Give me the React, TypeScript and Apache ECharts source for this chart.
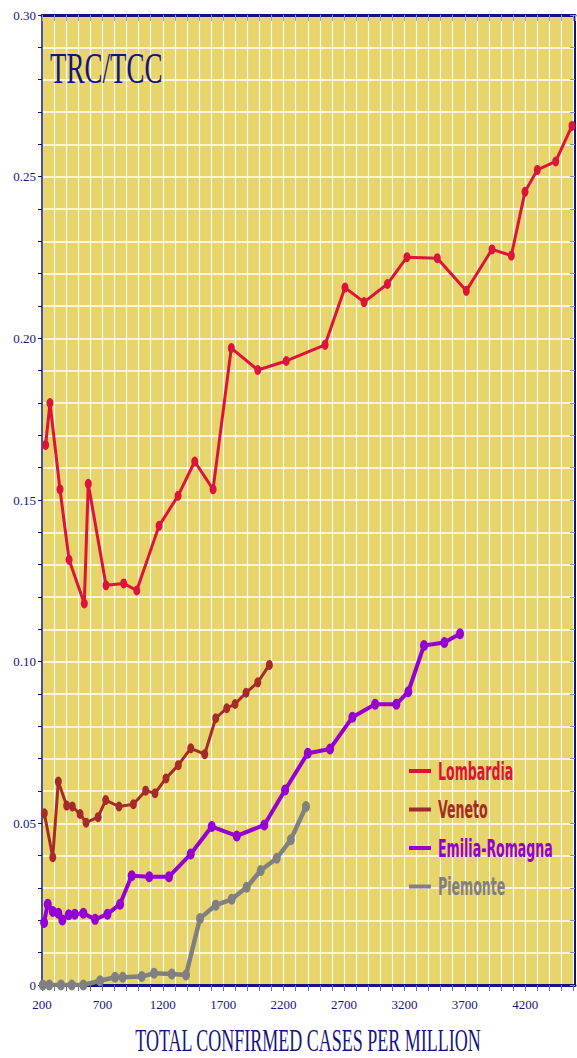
import React, { useEffect, useRef } from "react";
import * as echarts from "echarts";

const SERIES_NAMES = ["Lombardia", "Veneto", "Emilia-Romagna", "Piemonte"];
const SERIES_COLORS = ["#DC143C", "#A52A2A", "#9400D3", "#808080"];

const LOMBARDIA_X = [230, 266, 349, 424, 550, 583, 730, 876, 984, 1169, 1326, 1464, 1616, 1767, 1986, 2222, 2543, 2708, 2866, 3059, 3221, 3472, 3712, 3925, 4085, 4198, 4300, 4452, 4587];
const LOMBARDIA_Y = [0.167, 0.18, 0.1533, 0.1315, 0.118, 0.155, 0.1236, 0.1242, 0.122, 0.142, 0.1513, 0.1619, 0.1533, 0.197, 0.1902, 0.193, 0.198, 0.2157, 0.2112, 0.2168, 0.2251, 0.2248, 0.2147, 0.2275, 0.2256, 0.2453, 0.2521, 0.2547, 0.2657];

const VENETO_X = [219, 289, 335, 404, 451, 515, 564, 664, 727, 837, 956, 1058, 1135, 1226, 1328, 1431, 1547, 1638, 1729, 1798, 1889, 1986, 2082];
const VENETO_Y = [0.0531, 0.0395, 0.0629, 0.0555, 0.0552, 0.0529, 0.0502, 0.0519, 0.0572, 0.0552, 0.0559, 0.0601, 0.0593, 0.0639, 0.068, 0.0732, 0.0714, 0.0825, 0.0856, 0.0869, 0.0904, 0.0936, 0.099];

const EMILIA_X = [217, 247, 289, 335, 368, 421, 471, 542, 639, 741, 846, 942, 1088, 1251, 1431, 1605, 1812, 2040, 2212, 2400, 2584, 2769, 2957, 3133, 3232, 3362, 3530, 3660];
const EMILIA_Y = [0.0193, 0.025, 0.0227, 0.0222, 0.0201, 0.0217, 0.0219, 0.0222, 0.0203, 0.0219, 0.025, 0.0338, 0.0335, 0.0335, 0.0405, 0.049, 0.0461, 0.0495, 0.0603, 0.0717, 0.073, 0.0828, 0.0868, 0.0868, 0.0907, 0.105, 0.1059, 0.1086];

const PIEMONTE_X = [206, 260, 357, 446, 542, 680, 804, 868, 1025, 1127, 1274, 1392, 1508, 1638, 1770, 1894, 2010, 2143, 2259, 2385];
const PIEMONTE_Y = [0, 0, 0, 0, 0, 0.0013, 0.0024, 0.0024, 0.0026, 0.0036, 0.0034, 0.0031, 0.0206, 0.0247, 0.0265, 0.0302, 0.0354, 0.0392, 0.0449, 0.0552];

const X_MIN = 200;
const X_MAX = 4612;
const X_LABEL_STEP = 500;
const Y_MIN = 0;
const Y_MAX = 0.3;
const Y_LABEL_STEP = 0.05;

const TITLE = "TRC/TCC";
const X_NAME = "TOTAL CONFIRMED CASES PER MILLION";

const NAVY = "#14147f";
const SERIF = '"Liberation Serif", "DejaVu Serif", serif';
const LEGEND_FONT = '"DejaVu Sans Condensed", "DejaVu Sans", sans-serif';

function pairs(xs: number[], ys: number[]) {
  return xs.map((x, i) => [x, ys[i]]);
}

export default function App() {
  const ref = useRef<HTMLDivElement>(null);
  useEffect(() => {
    if (!ref.current) return;
    const chart = echarts.init(ref.current, null, { renderer: "svg" });
    const seriesData = [
      pairs(LOMBARDIA_X, LOMBARDIA_Y),
      pairs(VENETO_X, VENETO_Y),
      pairs(EMILIA_X, EMILIA_Y),
      pairs(PIEMONTE_X, PIEMONTE_Y),
    ];
    const lineWidths = [3, 3, 4, 4.5];
    const symbolSizes = [[7, 10], [7, 10], [8, 11], [8, 11]];
    const xFormatter = (v: number) => {
      const r = Math.round(v);
      return (r - X_MIN) % X_LABEL_STEP === 0 && Math.abs(v - r) < 1e-6 ? String(r) : "";
    };
    const yFormatter = (v: number) => {
      const r = Math.round(v * 100);
      if (Math.abs(v * 100 - r) > 1e-6) return "";
      if (r % Math.round(Y_LABEL_STEP * 100) !== 0) return "";
      return r === 0 ? "0" : (r / 100).toFixed(2);
    };

    const legendTop = 771;
    const legendStep = 38.5;
    const legendGraphics: any[] = [];
    SERIES_NAMES.forEach((name, i) => {
      const cy = legendTop + i * legendStep;
      legendGraphics.push({
        type: "rect",
        z: 10,
        shape: { x: 409, y: cy - 2, width: 22, height: 4 },
        style: { fill: SERIES_COLORS[i] },
      });
      legendGraphics.push({
        type: "text",
        z: 10,
        x: 438,
        y: cy,
        scaleY: 1.8,
        style: {
          text: name,
          fontFamily: LEGEND_FONT,
          fontWeight: "bold",
          fontSize: 14,
          fill: SERIES_COLORS[i],
          align: "left",
          verticalAlign: "middle",
        },
      });
    });

    chart.setOption({
      animation: false,
      backgroundColor: "#ffffff",
      grid: {
        left: 42,
        right: 2,
        top: 15,
        bottom: 73,
        show: true,
        backgroundColor: "#E7D46B",
        borderWidth: 0,
      },
      xAxis: [
        {
          type: "value",
          position: "bottom",
          min: X_MIN,
          max: X_MAX,
          interval: 100,
          axisLine: { show: true, onZero: false, lineStyle: { color: NAVY, width: 3 } },
          axisTick: { show: true, length: 6, lineStyle: { color: "#6a6ab4", width: 1 } },
          axisLabel: {
            formatter: xFormatter,
            color: NAVY,
            fontFamily: SERIF,
            fontSize: 13,
            margin: 13,
            showMaxLabel: false,
          },
          splitLine: { show: true, lineStyle: { color: "#ffffff", width: 1.2, opacity: 0.9 } },
        },
        {
          type: "value",
          position: "top",
          min: X_MIN,
          max: X_MAX,
          interval: 100,
          axisLine: { show: true, onZero: false, lineStyle: { color: NAVY, width: 3 } },
          axisTick: { show: true, inside: true, length: 6, lineStyle: { color: "#9a9ac8", width: 1 } },
          axisLabel: { show: false },
          splitLine: { show: false },
        },
      ],
      yAxis: [
        {
          type: "value",
          position: "left",
          min: Y_MIN,
          max: Y_MAX,
          interval: 0.01,
          axisLine: { show: true, onZero: false, lineStyle: { color: NAVY, width: 1.5 } },
          axisTick: { show: true, length: 4, lineStyle: { color: NAVY, width: 1 } },
          axisLabel: { formatter: yFormatter, color: NAVY, fontFamily: SERIF, fontSize: 13, margin: 6 },
          splitLine: { show: true, lineStyle: { color: "#ffffff", width: 1.5 } },
        },
        {
          type: "value",
          position: "right",
          min: Y_MIN,
          max: Y_MAX,
          interval: 0.01,
          axisLine: { show: true, onZero: false, lineStyle: { color: NAVY, width: 2 } },
          axisTick: { show: true, inside: true, length: 5, lineStyle: { color: "#8a8ac0", width: 1 } },
          axisLabel: { show: false },
          splitLine: { show: false },
        },
      ],
      graphic: [
        {
          type: "text",
          x: 50,
          y: 45,
          scaleY: 1.67,
          z: 10,
          style: {
            text: TITLE,
            fontFamily: SERIF,
            fontSize: 27,
            fill: NAVY,
            align: "left",
            verticalAlign: "top",
          },
        },
        {
          type: "text",
          x: 308,
          y: 1025,
          scaleY: 1.72,
          z: 10,
          style: {
            text: X_NAME,
            fontFamily: SERIF,
            fontSize: 18,
            fill: NAVY,
            align: "center",
            verticalAlign: "top",
          },
        },
        ...legendGraphics,
      ],
      series: SERIES_NAMES.map((name, i) => ({
        name,
        type: "line",
        xAxisIndex: 0,
        yAxisIndex: 0,
        data: seriesData[i],
        symbol: "circle",
        symbolSize: symbolSizes[i],
        showSymbol: true,
        color: SERIES_COLORS[i],
        lineStyle: { color: SERIES_COLORS[i], width: lineWidths[i] },
        itemStyle: { color: SERIES_COLORS[i] },
        z: 5 - i,
      })),
    });
    return () => chart.dispose();
  }, []);
  return <div ref={ref} style={{ position: "absolute", left: 0, top: 0, width: 577, height: 1058 }} />;
}
